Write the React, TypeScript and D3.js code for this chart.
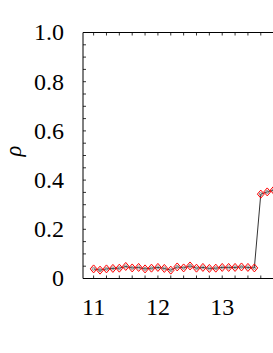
import React from "react";
import * as d3 from "d3";

const xValues = [11.0, 11.1, 11.2, 11.3, 11.4, 11.5, 11.6, 11.7, 11.8, 11.9, 12.0, 12.1, 12.2, 12.3, 12.4, 12.5, 12.6, 12.7, 12.8, 12.9, 13.0, 13.1, 13.2, 13.3, 13.4, 13.5, 13.6, 13.7, 13.8];
const rhoValues = [0.039, 0.034, 0.039, 0.041, 0.042, 0.049, 0.043, 0.045, 0.039, 0.042, 0.045, 0.041, 0.034, 0.047, 0.043, 0.051, 0.042, 0.045, 0.041, 0.042, 0.045, 0.045, 0.045, 0.047, 0.045, 0.043, 0.343, 0.352, 0.359];
const yTickLabels = ["0", "0.2", "0.4", "0.6", "0.8", "1.0"];
const yTickValues = [0, 0.2, 0.4, 0.6, 0.8, 1.0];
const xTickValues = [11, 12, 13];

const W = 273;
const H = 353;
const left = 83;
const top = 32.5;
const bottom = 278.5;

export default function App() {
  const x = d3.scaleLinear().domain([10.835, 15]).range([left, left + (15 - 10.835) * 64.3]);
  const y = d3.scaleLinear().domain([0, 1]).range([bottom, top]);
  const minorX = d3.range(11, 15.01, 0.2);
  const minorY = d3.range(0, 1.001, 0.05);
  const line = d3.line<number>().x((_, i) => x(xValues[i])).y((d) => y(d));
  const txt = { fontFamily: "Liberation Serif, serif", fontSize: "24px" };
  return (
    <svg width={W} height={H} style={{ position: "absolute", left: 0, top: 0, background: "#fff" }}>
      <rect x={0} y={0} width={W} height={H} fill="#fff" />
      <line x1={left} x2={W + 5} y1={top} y2={top} stroke="#000" strokeWidth={1} />
      <line x1={left} x2={W + 5} y1={bottom} y2={bottom} stroke="#000" strokeWidth={1} />
      <line x1={left} x2={left} y1={top} y2={bottom} stroke="#000" strokeWidth={1} />
      {minorX.map((v, i) => (
        <g key={"mx" + i}>
          <line x1={x(v)} x2={x(v)} y1={bottom} y2={bottom - 3} stroke="#000" strokeWidth={0.8} />
          <line x1={x(v)} x2={x(v)} y1={top} y2={top + 3} stroke="#000" strokeWidth={0.8} />
        </g>
      ))}
      {minorY.map((v, i) => (
        <line key={"my" + i} x1={left} x2={left + 3} y1={y(v)} y2={y(v)} stroke="#000" strokeWidth={0.8} />
      ))}
      {yTickValues.map((v, i) => (
        <text key={"yl" + i} x={64} y={y(v)} dy="0.33em" textAnchor="end" style={txt} fill="#000">
          {yTickLabels[i]}
        </text>
      ))}
      {xTickValues.map((v, i) => (
        <text key={"xl" + i} x={x(v)} y={315} textAnchor="middle" style={txt} fill="#000">
          {String(v)}
        </text>
      ))}
      <text transform="translate(20.5,151) rotate(-90)" textAnchor="middle" style={{ fontFamily: "Liberation Serif, serif", fontSize: "22.5px", fontStyle: "italic" }} fill="#000">
        ρ
      </text>
      <path d={line(rhoValues) || ""} fill="none" stroke="#000" strokeWidth={0.8} />
      {rhoValues.map((d, i) => (
        <circle key={"c" + i} cx={x(xValues[i])} cy={y(d)} r={1.5} fill="none" stroke="#777" strokeWidth={0.8} />
      ))}
      {rhoValues.map((d, i) => {
        const cx = x(xValues[i]);
        const cy = y(d);
        return (
          <path key={"d" + i} d={`M${cx},${cy - 4}L${cx + 3.4},${cy}L${cx},${cy + 4}L${cx - 3.4},${cy}Z`} fill="none" stroke="#f00" strokeWidth={1} />
        );
      })}
    </svg>
  );
}
